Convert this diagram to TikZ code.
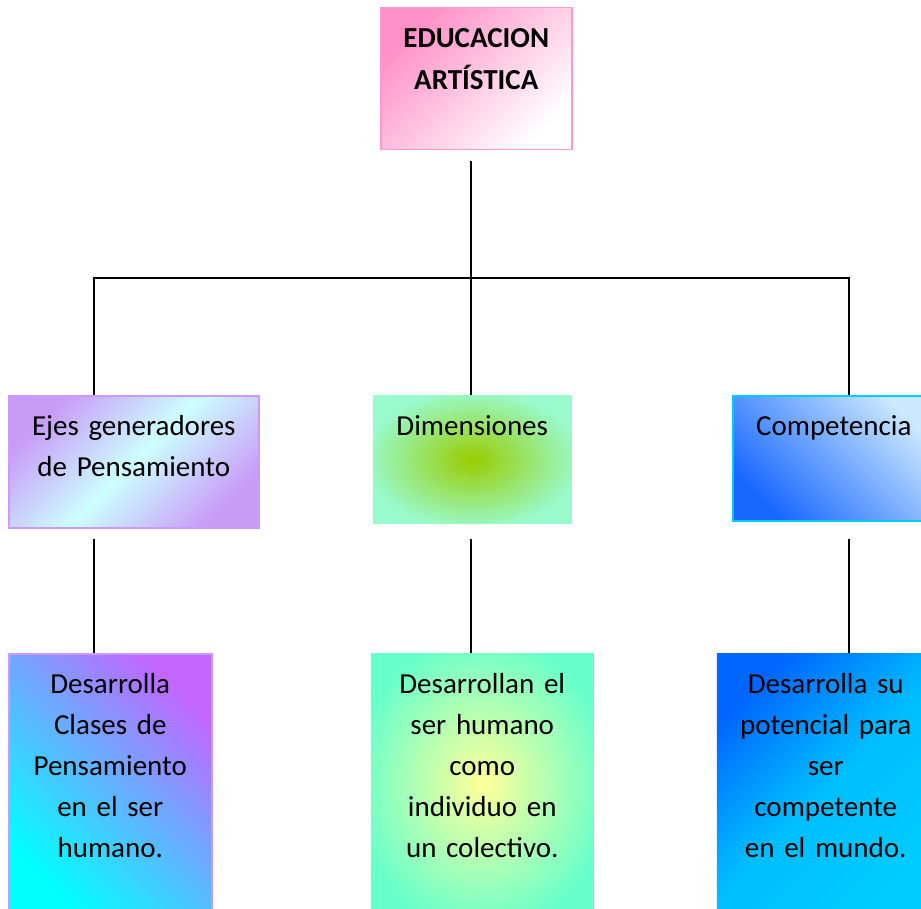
\documentclass[tikz,border=0pt]{standalone}
\usepackage{fontspec}
\setmainfont{Carlito}
\usetikzlibrary{calc}

\definecolor{eduPink}{HTML}{FF8FC7}
\definecolor{eduLine}{HTML}{FF99CC}
\definecolor{ejesPurple}{HTML}{C89BF7}
\definecolor{ejesCyan}{HTML}{CCFFFF}
\definecolor{ejesLine}{HTML}{CC99FF}
\definecolor{dimGreen}{HTML}{99CC00}
\definecolor{dimMint}{HTML}{99FACC}
\definecolor{compBlue}{HTML}{1766FF}
\definecolor{compLight}{HTML}{CCE8FF}
\definecolor{compLine}{HTML}{00CCFF}
\definecolor{desPurple}{HTML}{C266FF}
\definecolor{desCyan}{HTML}{00FFFF}
\definecolor{desYellow}{HTML}{FFFF99}
\definecolor{desAqua}{HTML}{66FFCC}
\definecolor{desBlue}{HTML}{0066FF}
\definecolor{desSky}{HTML}{00CCFF}

% glow shadings for the two middle column boxes
\pgfdeclareradialshading{dimglow}{\pgfpoint{0bp}{0bp}}{color(0bp)=(dimGreen); color(27bp)=(dimMint); color(50bp)=(dimMint)}
\pgfdeclareradialshading{desglow}{\pgfpoint{0bp}{0bp}}{color(0bp)=(desYellow); color(29bp)=(desAqua); color(50bp)=(desAqua)}

\tikzset{
    box/.style={anchor=north west, inner xsep=0pt, inner ysep=0pt, align=center,
        text height=40pt, line width=1.5pt, font=\fontsize{29}{41}\selectfont},
    link/.style={line width=1.5pt, black}
}

\begin{document}
\begin{tikzpicture}[x=1pt, y=-1pt]
    \useasboundingbox (0,0) rectangle (921,909);
    % Title
    \node[box, draw=eduLine, top color=eduPink, bottom color=white, shading angle=45,
        text width=191pt, text depth=102pt, font=\fontsize{29}{42}\selectfont\bfseries]
        (edu) at (380,7) {EDUCACION\\ARTÍSTICA};
    % Second level
    \node[box, draw=ejesLine, top color=ejesPurple, bottom color=ejesPurple, middle color=ejesCyan,
        shading angle=45, text width=250pt, text depth=92pt]
        (ejes) at (8,395) {Ejes generadores\\de Pensamiento};
    \node[box, shade, shading=dimglow, text width=199pt, text depth=88pt]
        (dim) at (372,395) {Dimensiones};
    \node[box, draw=compLine, top color=compLight, bottom color=compBlue, shading angle=-45,
        text width=202pt, text depth=85pt]
        (comp) at (732,395) {Competencia};
    % Third level
    \node[box, draw=ejesLine, top color=desPurple, bottom color=desCyan, shading angle=-45,
        text width=203pt, text depth=220pt]
        (des1) at (8,653) {Desarrolla\\Clases de\\Pensamiento\\en el ser\\humano.};
    \node[box, shade, shading=desglow, text width=223pt, text depth=220pt]
        (des2) at (370,653) {Desarrollan el\\ser humano\\como\\individuo en\\un colectivo.};
    \node[box, top color=desBlue, bottom color=desSky, middle color=desSky!85!desBlue,
        shading angle=45, text width=218pt, text depth=220pt]
        (des3) at (716,653) {Desarrolla su\\potencial para\\ser\\competente\\en el mundo.};
    % Connectors
    \coordinate (busL) at (94,278);
    \coordinate (bus) at (471,278);
    \coordinate (busR) at (849,278);
    \draw[link] ($(bus |- edu.south)+(0,11)$) -- (bus);
    \draw[link] (busL |- ejes.north) -- (busL) -- (busR) -- (busR |- comp.north);
    \draw[link] (bus) -- (bus |- dim.north);
    \foreach \c/\b in {busL/des1, bus/des2, busR/des3} {
        \draw[link] ($(\c |- ejes.south)+(0,10)$) -- (\c |- \b.north);
    }
\end{tikzpicture}
\end{document}
